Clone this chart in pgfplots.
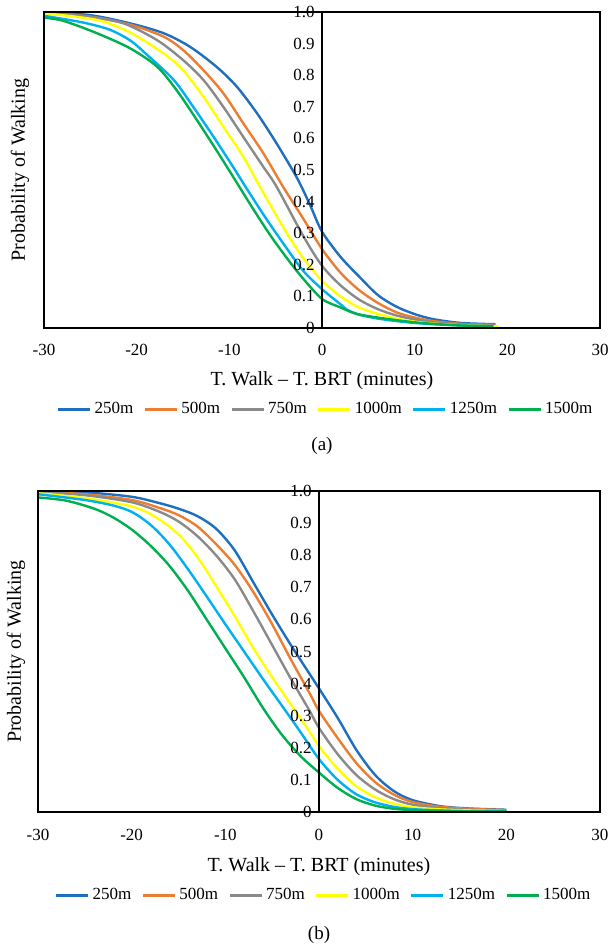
\documentclass[border=0pt]{standalone}
\usepackage{fontspec}
\setmainfont{Liberation Serif}
\usepackage{pgfplots}
\pgfplotsset{compat=1.18}

\definecolor{c250}{HTML}{1F6FC0}
\definecolor{c500}{HTML}{ED7D31}
\definecolor{c750}{HTML}{8A8A8A}
\definecolor{c1000}{HTML}{FFFF00}
\definecolor{c1250}{HTML}{00B0F0}
\definecolor{c1500}{HTML}{00B050}

\pgfplotsset{
  walk/.style={
    scale only axis,
    anchor=south west,
    xmin=-30, xmax=30, ymin=0, ymax=1,
    xtick={-30,-20,-10,0,10,20,30},
    xticklabels={-30,-20,-10,0,10,20,30},
    ytick={0,0.1,0.2,0.3,0.4,0.5,0.6,0.7,0.8,0.9,1},
    yticklabels={0,0.1,0.2,0.3,0.4,0.5,0.6,0.7,0.8,0.9,1.0},
    major tick length=0pt,
    axis line style={line width=1.4pt},
    axis on top,
    extra x ticks={0}, extra x tick labels={},
    extra x tick style={grid=major, major grid style={black, line width=1.1pt}},
    tick label style={font=\fontsize{8.5}{10}\selectfont},
    label style={font=\fontsize{9.5}{11}\selectfont},
    ylabel={Probability of Walking},
    xlabel={T. Walk -- T. BRT (minutes)},
    legend columns=6,
    legend style={draw=none, fill=none, inner sep=0pt, font=\fontsize{8.5}{10}\selectfont,
      nodes={inner xsep=1.5pt, inner ysep=1pt},
      /tikz/every even column/.append style={column sep=3.5pt}},
    legend image code/.code={\draw[#1, line width=1.5pt] (0pt,0pt) -- (16pt,0pt);},
    every axis plot/.append style={line width=1.2pt, smooth, tension=0.5, mark=none},
  }
}

\begin{document}
\begin{tikzpicture}
\useasboundingbox (0,0) rectangle (307.5pt,-473.5pt);

% (a)
\begin{axis}[walk,
  at={(22pt,-164pt)}, width=278pt, height=158pt,
  xticklabel style={anchor=center, yshift=-11pt},
  yticklabel style={anchor=east, inner sep=0pt, xshift=135.5pt},
  every axis x label/.style={at={(axis description cs:0.5,0)}, anchor=center, yshift=-26.5pt},
  every axis y label/.style={at={(axis description cs:-0.0432,0.5)}, anchor=center, rotate=90},
  legend style={at={(axis description cs:0.5,0)}, anchor=center, yshift=-40.5pt, xshift=2pt},
]
\addplot[c250] coordinates {(-30,1.0)(-25,0.99)(-20.7,0.964)(-17.1,0.933)(-14.25,0.89)(-11.4,0.827)(-9.2,0.764)(-7,0.679)(-4.9,0.584)(-2.7,0.475)(-1.3,0.39)(0,0.305)(2,0.225)(4,0.163)(6,0.105)(8,0.068)(10,0.044)(12,0.028)(15,0.016)(18.7,0.012)};
\addlegendentry{250m}
\addplot[c500] coordinates {(-30,1.0)(-25,0.985)(-20.7,0.96)(-17.1,0.922)(-15,0.88)(-12.8,0.816)(-10.65,0.743)(-8.5,0.648)(-6.33,0.553)(-4.2,0.447)(-2,0.345)(0,0.25)(2,0.175)(4,0.12)(6,0.08)(8,0.05)(10,0.033)(12,0.022)(15,0.013)(18.7,0.01)};
\addlegendentry{500m}
\addplot[c750] coordinates {(-30,1.0)(-25,0.985)(-21.4,0.964)(-17.8,0.911)(-15,0.848)(-12.8,0.785)(-10.65,0.70)(-8.5,0.605)(-6.33,0.51)(-4.9,0.447)(-2,0.29)(0,0.197)(2,0.135)(4,0.09)(6,0.06)(8,0.04)(10,0.027)(12,0.018)(15,0.012)(18.7,0.01)};
\addlegendentry{750m}
\addplot[c1000] coordinates {(-30,0.996)(-24.3,0.975)(-20.7,0.935)(-17.1,0.869)(-15,0.816)(-12.8,0.732)(-10.65,0.637)(-8.5,0.542)(-6.7,0.447)(-4,0.31)(-2,0.22)(0,0.15)(2,0.10)(4,0.065)(6,0.045)(8,0.03)(10,0.02)(12,0.014)(15,0.009)(19,0.005)};
\addlegendentry{1000m}
\addplot[c1250] coordinates {(-30,0.988)(-26,0.968)(-23,0.945)(-20.7,0.91)(-18.9,0.865)(-16,0.785)(-13.9,0.70)(-11.7,0.605)(-9.6,0.51)(-7.8,0.426)(-6,0.345)(-4,0.26)(-2,0.18)(0,0.123)(2,0.075)(2.7,0.058)(4,0.042)(6,0.03)(8,0.022)(10,0.016)(12,0.012)(15,0.008)(18.5,0.005)};
\addlegendentry{1250m}
\addplot[c1500] coordinates {(-30,0.982)(-27.9,0.972)(-24.3,0.933)(-20.7,0.885)(-17.8,0.827)(-15.7,0.753)(-13.5,0.658)(-11.4,0.563)(-9.6,0.479)(-7.5,0.38)(-5.5,0.29)(-3.5,0.21)(-2,0.155)(0,0.092)(2,0.065)(3,0.052)(4,0.043)(6,0.033)(8,0.025)(10,0.018)(12,0.013)(15,0.008)(18.5,0.005)};
\addlegendentry{1500m}
\end{axis}
\node[font=\fontsize{9.5}{11}\selectfont] at (161pt,-223pt) {(a)};

% (b)
\begin{axis}[walk,
  at={(19pt,-406pt)}, width=281pt, height=160.5pt,
  xticklabel style={anchor=center, yshift=-11.5pt},
  yticklabel style={anchor=east, inner sep=0pt, xshift=137pt},
  every axis x label/.style={at={(axis description cs:0.5,0)}, anchor=center, yshift=-27.5pt},
  every axis y label/.style={at={(axis description cs:-0.039,0.5)}, anchor=center, rotate=90},
  legend style={at={(axis description cs:0.5,0)}, anchor=center, yshift=-41.5pt, xshift=2.5pt},
]
\addplot[c250] coordinates {(-30,1.0)(-25,0.996)(-20,0.982)(-17,0.962)(-15,0.945)(-13,0.922)(-11,0.883)(-9,0.815)(-7,0.715)(-5,0.615)(-3,0.52)(-1,0.43)(0,0.385)(2,0.293)(4,0.193)(6,0.115)(8,0.065)(10,0.037)(13,0.018)(16,0.011)(20,0.007)};
\addlegendentry{250m}
\addplot[c500] coordinates {(-30,0.998)(-25,0.99)(-20,0.972)(-17,0.947)(-15,0.925)(-13,0.89)(-11,0.835)(-9,0.77)(-7,0.685)(-5,0.585)(-3,0.475)(-1,0.37)(0,0.315)(2,0.23)(4,0.152)(6,0.093)(8,0.054)(10,0.031)(13,0.016)(16,0.01)(20,0.006)};
\addlegendentry{500m}
\addplot[c750] coordinates {(-30,0.997)(-25,0.987)(-20,0.965)(-17,0.935)(-15,0.905)(-13,0.86)(-11,0.80)(-9,0.725)(-7,0.625)(-5,0.52)(-3,0.415)(-1,0.315)(0,0.262)(2,0.18)(4,0.115)(6,0.07)(8,0.04)(10,0.023)(13,0.012)(16,0.007)(20,0.004)};
\addlegendentry{750m}
\addplot[c1000] coordinates {(-30,0.993)(-25,0.978)(-20,0.952)(-17.5,0.92)(-15,0.865)(-13,0.795)(-11,0.705)(-9,0.61)(-7,0.51)(-5,0.42)(-3,0.335)(-1,0.25)(0,0.205)(2,0.135)(4,0.08)(6,0.046)(8,0.026)(10,0.015)(13,0.008)(16,0.005)(20,0.003)};
\addlegendentry{1000m}
\addplot[c1250] coordinates {(-30,0.99)(-25,0.972)(-22,0.955)(-20,0.935)(-18,0.895)(-16,0.835)(-14,0.757)(-12,0.672)(-10,0.585)(-8,0.5)(-6,0.415)(-4,0.333)(-2,0.25)(0,0.165)(2,0.1)(4,0.055)(6,0.03)(8,0.016)(10,0.009)(13,0.005)(16,0.003)(20,0.002)};
\addlegendentry{1250m}
\addplot[c1500] coordinates {(-30,0.98)(-27,0.97)(-24,0.945)(-22,0.918)(-20,0.88)(-18,0.83)(-16,0.768)(-14,0.69)(-12,0.6)(-10,0.51)(-8,0.42)(-6,0.325)(-4,0.242)(-2,0.175)(0,0.123)(2,0.075)(4,0.04)(6,0.02)(8,0.01)(10,0.006)(13,0.003)(16,0.002)(20,0.001)};
\addlegendentry{1500m}
\end{axis}
\node[font=\fontsize{9.5}{11}\selectfont] at (159.5pt,-467.5pt) {(b)};
\end{tikzpicture}
\end{document}
